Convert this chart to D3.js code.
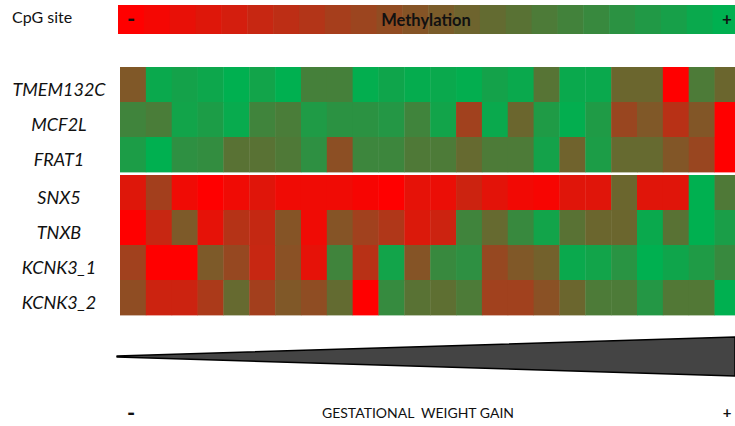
<!DOCTYPE html>
<html>
<head>
<meta charset="utf-8">
<script src="https://cdn.jsdelivr.net/npm/d3@7"></script>
<style>
  body { margin: 0; background: #fff; }
  svg { display: block; font-family: Lato, "Open Sans", sans-serif; }
</style>
</head>
<body>
<div id="chart"></div>
<script>
/* ---------- data ---------- */
const genes = ['TMEM132C', 'MCF2L', 'FRAT1', 'SNX5', 'TNXB', 'KCNK3_1', 'KCNK3_2'];

// samples ordered by gestational weight gain (low -> high)
const samples = d3.range(24).map(i => 's' + (i + 1));

// methylation level per cell, 0 = low (red), 1 = high (green)
const tmem132c = [0.50, 0.96, 0.92, 0.95, 1.00, 0.93, 1.00, 0.73, 0.73, 0.99, 0.94, 0.98, 0.96, 0.99, 0.92, 0.96, 0.66, 0.96, 0.96, 0.58, 0.58, 0.00, 0.70, 0.58];
const mcf2l    = [0.75, 0.71, 0.93, 0.89, 0.97, 0.75, 0.71, 0.88, 0.83, 0.83, 0.86, 0.75, 0.93, 0.37, 0.96, 0.58, 0.88, 0.99, 0.88, 0.40, 0.50, 0.28, 0.49, 0.00];
const frat1    = [0.89, 1.00, 0.82, 0.80, 0.65, 0.65, 0.69, 0.82, 0.45, 0.76, 0.76, 0.69, 0.70, 0.60, 0.70, 0.70, 0.92, 0.56, 0.89, 0.60, 0.60, 0.49, 0.40, 0.00];
const snx5     = [0.13, 0.36, 0.06, 0.00, 0.06, 0.12, 0.06, 0.06, 0.06, 0.03, 0.00, 0.10, 0.08, 0.20, 0.11, 0.05, 0.03, 0.12, 0.12, 0.58, 0.12, 0.12, 1.00, 0.69];
const tnxb     = [0.00, 0.22, 0.51, 0.10, 0.29, 0.23, 0.48, 0.06, 0.48, 0.37, 0.31, 0.14, 0.20, 0.75, 0.60, 0.78, 0.93, 0.65, 0.58, 0.58, 0.96, 0.65, 1.00, 0.90];
const kcnk3_1  = [0.37, 0.00, 0.00, 0.51, 0.41, 0.22, 0.46, 0.10, 0.75, 0.28, 0.93, 0.48, 0.78, 0.82, 0.41, 0.50, 0.55, 0.96, 0.93, 0.84, 1.00, 0.94, 0.88, 0.78];
const kcnk3_2  = [0.44, 0.20, 0.20, 0.33, 0.60, 0.36, 0.50, 0.44, 0.61, 0.00, 0.79, 0.65, 0.63, 0.70, 0.37, 0.37, 0.46, 0.58, 0.70, 0.70, 0.86, 0.68, 0.68, 1.00];
const values = [tmem132c, mcf2l, frat1, snx5, tnxb, kcnk3_1, kcnk3_2];

// legend steps for the methylation bar
const legendSteps = [0, 0.04, 0.09, 0.13, 0.17, 0.22, 0.26, 0.30, 0.35, 0.39, 0.43, 0.48,
                     0.52, 0.57, 0.61, 0.65, 0.70, 0.74, 0.78, 0.83, 0.87, 0.91, 0.96, 1];

const wedge = [0, 1];

/* ---------- layout ---------- */
const W = 735, H = 426;
const svg = d3.select('#chart').append('svg').attr('width', W).attr('height', H);

const color = d3.scaleLinear().domain([0, 1]).range(['#ff0000', '#00b050']).interpolate(d3.interpolateRgb);

const x = d3.scaleBand().domain(samples).range([120, 120 + 24 * 25.85]).padding(0);
const rowH = 35;
const y = d3.scaleBand().domain(genes).range([67, 67 + 7 * rowH]).padding(0);
const rowY = g => y(g) + (genes.indexOf(g) >= 3 ? 3 : 0);

/* ---------- legend bar ---------- */
const lx = d3.scaleBand().domain(legendSteps.map((d, i) => i)).range([118, 118 + 24 * 25.85]);
svg.append('g')
  .selectAll('rect')
  .data(legendSteps)
  .enter()
  .append('rect')
  .attr('x', (d, i) => lx(i))
  .attr('y', 5)
  .attr('width', lx.bandwidth() + 0.5)
  .attr('height', 29)
  .attr('fill', d => color(d));

svg.append('text').attr('x', 12).attr('y', 23).attr('font-size', 16).attr('fill', '#111').text('CpG site');
svg.append('text').attr('x', 426).attr('y', 26).attr('text-anchor', 'middle')
  .attr('font-size', 16.5).attr('font-weight', 'bold').attr('fill', '#111').text('Methylation');
svg.append('text').attr('x', 127).attr('y', 27).attr('font-size', 22).attr('font-weight', 'bold').attr('fill', '#111').text('-');
svg.append('text').attr('x', 727).attr('y', 25).attr('text-anchor', 'middle')
  .attr('font-size', 17).attr('font-weight', 'bold').attr('fill', '#111').text('+');

/* ---------- heatmap ---------- */
const cells = [];
genes.forEach((g, r) => samples.forEach((s, c) => cells.push({ gene: g, sample: s, v: values[r][c] })));

svg.append('g')
  .selectAll('rect')
  .data(cells)
  .enter()
  .append('rect')
  .attr('x', d => x(d.sample))
  .attr('y', d => rowY(d.gene))
  .attr('width', x.bandwidth() + 0.4)
  .attr('height', y.bandwidth() + 0.4)
  .attr('fill', d => color(d.v));

svg.append('g')
  .selectAll('text')
  .data(genes)
  .enter()
  .append('text')
  .attr('x', 59)
  .attr('y', g => rowY(g) + rowH / 2 + 7)
  .attr('text-anchor', 'middle')
  .attr('dominant-baseline', 'middle')
  .attr('font-size', 18)
  .attr('font-style', 'italic')
  .attr('fill', '#111')
  .text(g => g);

/* ---------- weight gain wedge ---------- */
const gx = d3.scaleLinear().domain([0, 1]).range([117, 735]);
const half = d3.scaleLinear().domain([0, 1]).range([0.5, 19.5]);
const mid = 356.5;
const area = d3.area()
  .x(d => gx(d))
  .y0(d => mid + half(d))
  .y1(d => mid - half(d));

svg.append('path')
  .datum(wedge)
  .attr('d', area)
  .attr('fill', '#444')
  .attr('stroke', '#000')
  .attr('stroke-width', 1.5)
  .attr('stroke-linejoin', 'round');

svg.append('text').attr('x', 418).attr('y', 418).attr('text-anchor', 'middle')
  .attr('font-size', 14).attr('fill', '#111').attr('xml:space', 'preserve').text('GESTATIONAL  WEIGHT GAIN');
svg.append('text').attr('x', 127).attr('y', 421).attr('font-size', 22).attr('font-weight', 'bold').attr('fill', '#111').text('-');
svg.append('text').attr('x', 727).attr('y', 418).attr('text-anchor', 'middle')
  .attr('font-size', 15).attr('font-weight', 'bold').attr('fill', '#111').text('+');
</script>
</body>
</html>
